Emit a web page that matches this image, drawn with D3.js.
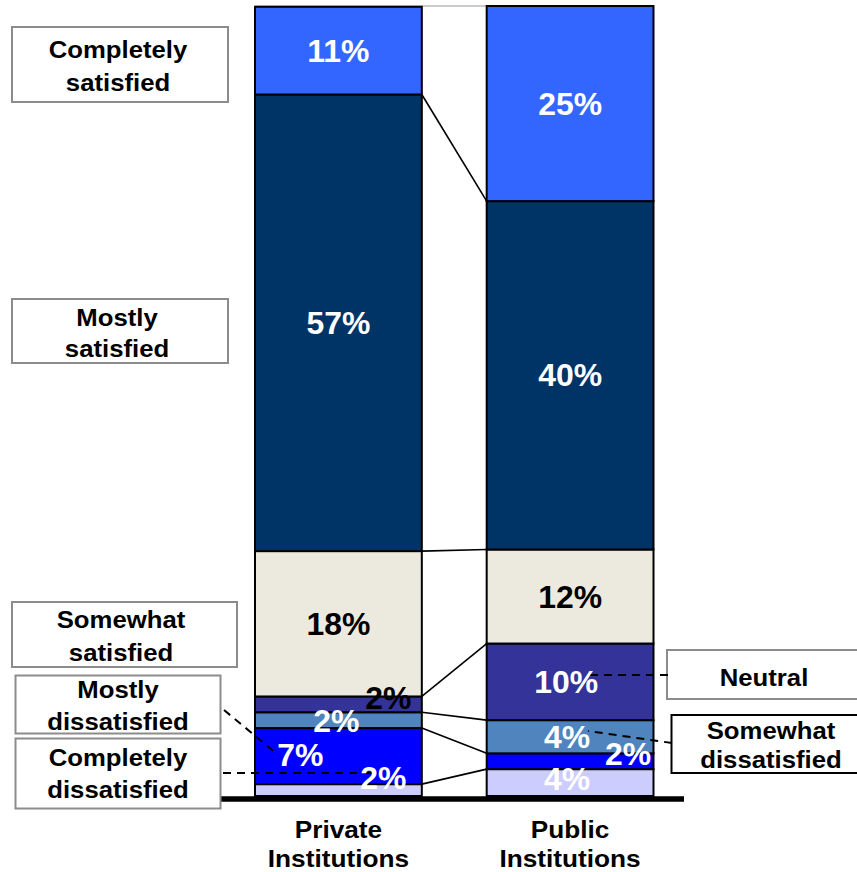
<!DOCTYPE html>
<html>
<head>
<meta charset="utf-8">
<script src="https://cdn.jsdelivr.net/npm/d3@7"></script>
<style>
  html, body { margin: 0; padding: 0; background: #fff; }
  svg { display: block; }
  text { font-family: "Liberation Sans", Arial, sans-serif; font-weight: bold; }
</style>
</head>
<body>
<svg id="chart" width="857" height="872"></svg>
<script>
// ---------- DATA ----------
const categories = ["Private Institutions", "Public Institutions"];
const seriesNames = ["Completely dissatisfied", "Mostly dissatisfied", "Somewhat dissatisfied",
                     "Neutral", "Somewhat satisfied", "Mostly satisfied", "Completely satisfied"];
// segment shares (bar heights, % of respondents), bottom to top
const privateShares = [1.5, 7.1, 2.0, 2.0, 18.4, 57.8, 11.1];
const publicShares  = [3.4, 2.0, 4.2, 9.7, 11.9, 44.1, 24.7];
// printed percentage labels
const privateLabels = [2, 7, 2, 2, 18, 57, 11];
const publicLabels  = [4, 2, 4, 10, 12, 40, 25];

// ---------- STYLES / LAYOUT ----------
const colors = {
  "Completely dissatisfied": "#CCCCFF",
  "Mostly dissatisfied": "#0000FF",
  "Somewhat dissatisfied": "#4F84BF",
  "Neutral": "#333399",
  "Somewhat satisfied": "#ECEADF",
  "Mostly satisfied": "#003366",
  "Completely satisfied": "#3366FF"
};
const darkText = { "Somewhat satisfied": true };
const labelNudge = {
  "Private Institutions": {
    "Completely dissatisfied": [45, -12],
    "Mostly dissatisfied": [-38, -1],
    "Somewhat dissatisfied": [-2, 1],
    "Neutral": [50, -7, "#000"]
  },
  "Public Institutions": {
    "Completely dissatisfied": [-3, -3.5],
    "Mostly dissatisfied": [58, -7.5],
    "Somewhat dissatisfied": [-3, 0],
    "Neutral": [-4, 0]
  }
};
const boxes = [
  { lines: ["Completely", "satisfied"], x: 12, y: 27, w: 216, h: 75, cx: 118, base: [57.5, 91], stroke: "#8c8c8c" },
  { lines: ["Mostly", "satisfied"], x: 12, y: 299, w: 216, h: 64, cx: 117, base: [325.5, 357], stroke: "#8c8c8c" },
  { lines: ["Somewhat", "satisfied"], x: 12, y: 602, w: 225, h: 65, cx: 121, base: [627.5, 660.5], stroke: "#8c8c8c" },
  { lines: ["Mostly", "dissatisfied"], x: 15.5, y: 675.5, w: 205, h: 58, cx: 118, base: [698, 730], stroke: "#8c8c8c" },
  { lines: ["Completely", "dissatisfied"], x: 15.5, y: 738.5, w: 205, h: 70, cx: 118, base: [765.5, 798], stroke: "#8c8c8c" },
  { lines: ["Neutral"], x: 667, y: 650, w: 200, h: 49, cx: 764, base: [686], stroke: "#8c8c8c" },
  { lines: ["Somewhat", "dissatisfied"], x: 671.5, y: 715, w: 200, h: 58, cx: 771, base: [739, 768], stroke: "#000" }
];
const leaders = [
  [224, 710, 277, 754],
  [223, 773, 378, 773],
  [668, 675, 590, 675],
  [672, 743, 588, 731]
];

// ---------- CHART ----------
const svg = d3.select("#chart");
const y = d3.scaleLinear().domain([0, 100]).range([796, 6]);
const x = d3.scaleBand().domain(categories).range([255, 653.5]).paddingInner(0.28).paddingOuter(0);

const shareRows = [privateShares, publicShares];
const labelRows = [privateLabels, publicLabels];
const table = categories.map((c, i) => {
  const row = { cat: c };
  seriesNames.forEach((s, j) => { row[s] = shareRows[i][j]; });
  return row;
});
const stacked = d3.stack().keys(seriesNames)(table);

// top frame line between bars
svg.append("line")
  .attr("x1", x(categories[0])).attr("x2", x(categories[1]) + x.bandwidth())
  .attr("y1", y(100)).attr("y2", y(100))
  .attr("stroke", "#999").attr("stroke-width", 1.2);

// segments
stacked.forEach(layer => {
  svg.append("g").selectAll("rect").data(layer).join("rect")
    .attr("x", d => x(d.data.cat))
    .attr("y", d => y(d[1]))
    .attr("width", x.bandwidth())
    .attr("height", d => y(d[0]) - y(d[1]))
    .attr("fill", colors[layer.key])
    .attr("stroke", "#000")
    .attr("stroke-width", 2);
});

// connectors between bars
const xr = x(categories[0]) + x.bandwidth();
const xl = x(categories[1]);
stacked.slice(0, stacked.length - 1).forEach(layer => {
  svg.append("line")
    .attr("x1", xr).attr("y1", y(layer[0][1]))
    .attr("x2", xl).attr("y2", y(layer[1][1]))
    .attr("stroke", "#000").attr("stroke-width", 1.6);
});

// baseline
svg.append("line")
  .attr("x1", 220).attr("x2", 684)
  .attr("y1", y(0) + 3).attr("y2", y(0) + 3)
  .attr("stroke", "#000").attr("stroke-width", 5.5);

// category labels
categories.forEach(c => {
  const words = c.split(" ");
  const cx = x(c) + x.bandwidth() / 2;
  words.forEach((w, k) => {
    svg.append("text")
      .attr("transform", `translate(${cx},${838 + k * 29}) scale(1.07,1)`)
      .attr("text-anchor", "middle")
      .attr("font-size", 24.5)
      .attr("fill", "#000")
      .text(w);
  });
});

// label boxes
boxes.forEach(b => {
  svg.append("rect")
    .attr("x", b.x).attr("y", b.y).attr("width", b.w).attr("height", b.h)
    .attr("fill", "#fff").attr("stroke", b.stroke).attr("stroke-width", 2);
  b.lines.forEach((t, k) => {
    svg.append("text")
      .attr("transform", `translate(${b.cx},${b.base[k]}) scale(1.05,1)`)
      .attr("text-anchor", "middle")
      .attr("font-size", 24.5)
      .attr("fill", "#000")
      .text(t);
  });
});

// dashed leaders
leaders.forEach(l => {
  svg.append("line")
    .attr("x1", l[0]).attr("y1", l[1]).attr("x2", l[2]).attr("y2", l[3])
    .attr("stroke", "#000").attr("stroke-width", 2)
    .attr("stroke-dasharray", "8,6");
});

// value labels
stacked.forEach((layer, j) => {
  layer.forEach((d, i) => {
    const cat = d.data.cat;
    const nud = (labelNudge[cat] || {})[layer.key] || [0, 0];
    const cx = x(cat) + x.bandwidth() / 2 + nud[0];
    const cy = (y(d[0]) + y(d[1])) / 2 + nud[1];
    const fill = nud[2] || (darkText[layer.key] ? "#000" : "#fff");
    svg.append("text")
      .attr("transform", `translate(${cx},${cy}) scale(1.03,1)`)
      .attr("text-anchor", "middle")
      .attr("dy", "0.36em")
      .attr("font-size", 31)
      .attr("fill", fill)
      .text(labelRows[i][j] + "%");
  });
});
</script>
</body>
</html>
